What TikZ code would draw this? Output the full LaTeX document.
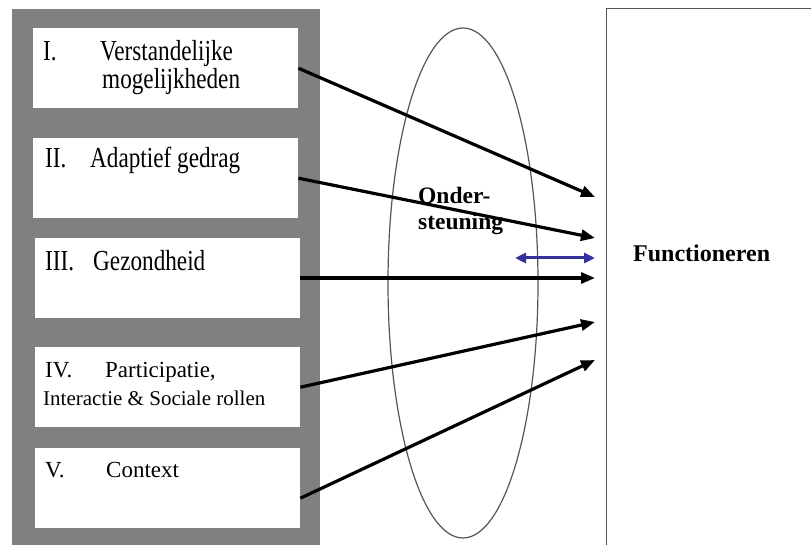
\documentclass[tikz,border=0pt]{standalone}
\usepackage{fontspec}
\setmainfont{Liberation Serif}
\newfontfamily\narrowserif[FakeStretch=0.8]{Liberation Serif}
\usetikzlibrary{arrows.meta}
\definecolor{panelGray}{RGB}{128, 128, 128}
\definecolor{arrowBlue}{RGB}{51, 51, 153}
\definecolor{lineGray}{RGB}{85, 85, 85}

\begin{document}
\begin{tikzpicture}[x=1pt, y=-1pt,
    area/.style={fill=white, anchor=north west, inner sep=0pt, minimum width=265pt, minimum height=80pt},
    lbl/.style={anchor=base west, inner sep=0pt},
    big/.style={font=\narrowserif\fontsize{29}{31}\selectfont},
    plain/.style={font=\fontsize{23}{26}\selectfont},
    link/.style={line width=3.2pt, -{Triangle[length=14pt, width=11pt]}},
    duo/.style={arrowBlue, line width=3pt, {Triangle[length=11pt, width=10pt]}-{Triangle[length=11pt, width=10pt]}}]
  \useasboundingbox (0,0) rectangle (811,545);
  \clip (0,0) rectangle (811,545);
  % grey panel with the five areas
  \fill[panelGray] (12,9) rectangle (320,545);
  \node[area] (b1) at (33,28) {};
  \node[area] (b2) at (33,138) {};
  \node[area] (b3) at (35,238) {};
  \node[area] (b4) at (35,347) {};
  \node[area] (b5) at (35,448) {};
  \node[lbl, big] at (43,61) {I.};
  \node[lbl, big] at (100,61) {Verstandelijke};
  \node[lbl, big] at (102,89) {mogelijkheden};
  \node[lbl, big] at (45,168) {II.};
  \node[lbl, big] at (90,168) {Adaptief gedrag};
  \node[lbl, big] at (45,271) {III.};
  \node[lbl, big] at (93,271) {Gezondheid};
  \node[lbl, plain] at (45,377) {IV.};
  \node[lbl, plain] at (105,377) {Participatie,};
  \node[lbl, font=\fontsize{21}{24}\selectfont] at (43,405) {Interactie \& Sociale rollen};
  \node[lbl, plain] at (45,477) {V.};
  \node[lbl, plain] at (106,477) {Context};
  % support oval and functioning box
  \draw[lineGray, line width=1.2pt] (463,283) ellipse (75pt and 255pt);
  \node[draw=lineGray, line width=1pt, anchor=north west, minimum width=260pt, minimum height=560pt] (func) at (606,8) {};
  \node[lbl, font=\bfseries\fontsize{24}{28}\selectfont] (funclbl) at (633,262) {Functioneren};
  \node[lbl, align=left, font=\bfseries\fontsize{23.5}{26}\selectfont] (steun) at (418,230) {Onder-\\steuning};
  % arrows
  \coordinate (t0) at (595,258);
  \coordinate (t1) at (595,197);
  \coordinate (t2) at (595,238);
  \coordinate (t3) at (595,278);
  \coordinate (t4) at (595,322);
  \coordinate (t5) at (595,360);
  \coordinate (s0) at (515,258);
  \draw[link] (b1.east) -- (t1);
  \draw[link] (b2.east) -- (t2);
  \draw[link] (b3.east |- t3) -- (t3);
  \draw[link] (b4.east) -- (t4);
  \draw[link] ([yshift=-10pt]b5.east) -- (t5);
  \draw[duo] (s0) -- (t0);
\end{tikzpicture}
\end{document}
